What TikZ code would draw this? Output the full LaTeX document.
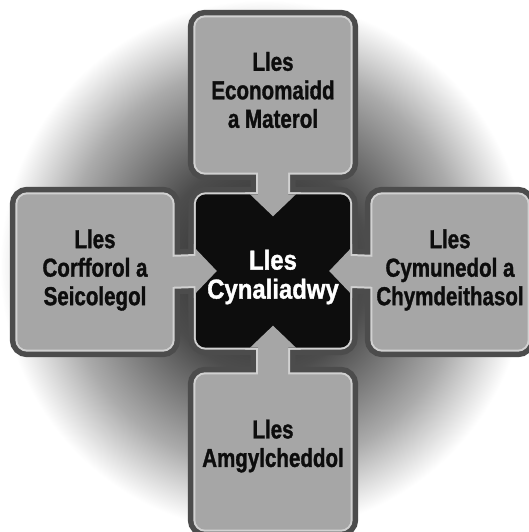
\documentclass[tikz,border=0pt]{standalone}
\usepackage{fontspec}
\newfontfamily\condsans{Liberation Sans}[FakeStretch=0.79, FakeBold=1.2]
\newfontfamily\coresans{Liberation Sans}[FakeStretch=0.87, FakeBold=1.2]
\usepackage{tikz}
\usetikzlibrary{calc}

\pgfdeclarelayer{background}
\pgfsetlayers{background,main}

% glow behind the boxes
\pgfdeclareradialshading{glow}{\pgfpointorigin}{color(0bp)=(black!85); color(10bp)=(black!70); color(19bp)=(black!33); color(25bp)=(white); color(50bp)=(white)}

\tikzset{
    outerbox/.style={minimum width=155pt, minimum height=155pt, inner sep=0pt},
    corebox/.style={minimum width=154pt, minimum height=153pt, inner sep=0pt},
    outertext/.style={align=center, text=black!95, font=\condsans\bfseries\fontsize{26}{28.5}\selectfont},
    coretext/.style={align=center, text=white, font=\coresans\bfseries\fontsize{27.5}{29}\selectfont},
    darkrim/.style={draw=black!70, line width=15pt},
    lightrim/.style={draw=black!18, line width=4pt},
    boxfill/.style={fill=black!35},
    corefill/.style={fill=black!95}
}

\begin{document}
\begin{tikzpicture}[x=1pt, y=1pt]
    \useasboundingbox (0,0) rectangle (528,532);

    % Centre and the four kinds of wellbeing
    \node[corebox] (cyn) at (273,261) {};
    \node[outerbox] (eco) at (273,437) {};
    \node[outerbox] (corff) at (95,260) {};
    \node[outerbox] (cym) at (450,260) {};
    \node[outerbox] (amg) at (273,80) {};

    % Texts
    \node[coretext] (cyntext) at (273,255) {Lles\\Cynaliadwy};
    \node[outertext] (ecotext) at (273,442) {Lles\\Economaidd\\a Materol};
    \node[outertext] (corfftext) at (95,262) {Lles\\Corfforol a\\Seicolegol};
    \node[outertext] (cymtext) at (450,262) {Lles\\Cymunedol a\\Chymdeithasol};
    \node[outertext] (amgtext) at (273,86) {Lles\\Amgylcheddol};

    \begin{pgfonlayer}{background}
        \shade[shading=glow] (0,0) rectangle (528,532);

        % three passes: dark rim, light rim, fill
        \foreach \pass/\corepass in {darkrim/darkrim, lightrim/lightrim, boxfill/corefill}{
            \path[\corepass, rounded corners=10pt] (cyn.south west) rectangle (cyn.north east);
            \foreach \n in {eco, corff, cym, amg}
                \path[\pass, rounded corners=10pt] (\n.south west) rectangle (\n.north east);

            % arrows into the centre
            \path[\pass] ($(eco.south)+(-15,6)$) -- ($(cyn.north)+(-15,0)$) -- ($(cyn.north)+(-23,0)$)
                -- ($(cyn.north)+(0,-22)$) -- ($(cyn.north)+(23,0)$) -- ($(cyn.north)+(15,0)$)
                -- ($(eco.south)+(15,6)$) -- cycle;
            \path[\pass] ($(amg.north)+(-15,-6)$) -- ($(cyn.south)+(-15,0)$) -- ($(cyn.south)+(-23,0)$)
                -- ($(cyn.south)+(0,22)$) -- ($(cyn.south)+(23,0)$) -- ($(cyn.south)+(15,0)$)
                -- ($(amg.north)+(15,-6)$) -- cycle;
            \path[\pass] ($(corff.east)+(-6,15)$) -- ($(cyn.west)+(0,15)$) -- ($(cyn.west)+(0,22)$)
                -- ($(cyn.west)+(21,0)$) -- ($(cyn.west)+(0,-22)$) -- ($(cyn.west)+(0,-15)$)
                -- ($(corff.east)+(-6,-15)$) -- cycle;
            \path[\pass] ($(cym.west)+(6,15)$) -- ($(cyn.east)+(0,15)$) -- ($(cyn.east)+(0,22)$)
                -- ($(cyn.east)+(-21,0)$) -- ($(cyn.east)+(0,-22)$) -- ($(cyn.east)+(0,-15)$)
                -- ($(cym.west)+(6,-15)$) -- cycle;
        }
    \end{pgfonlayer}
\end{tikzpicture}
\end{document}
